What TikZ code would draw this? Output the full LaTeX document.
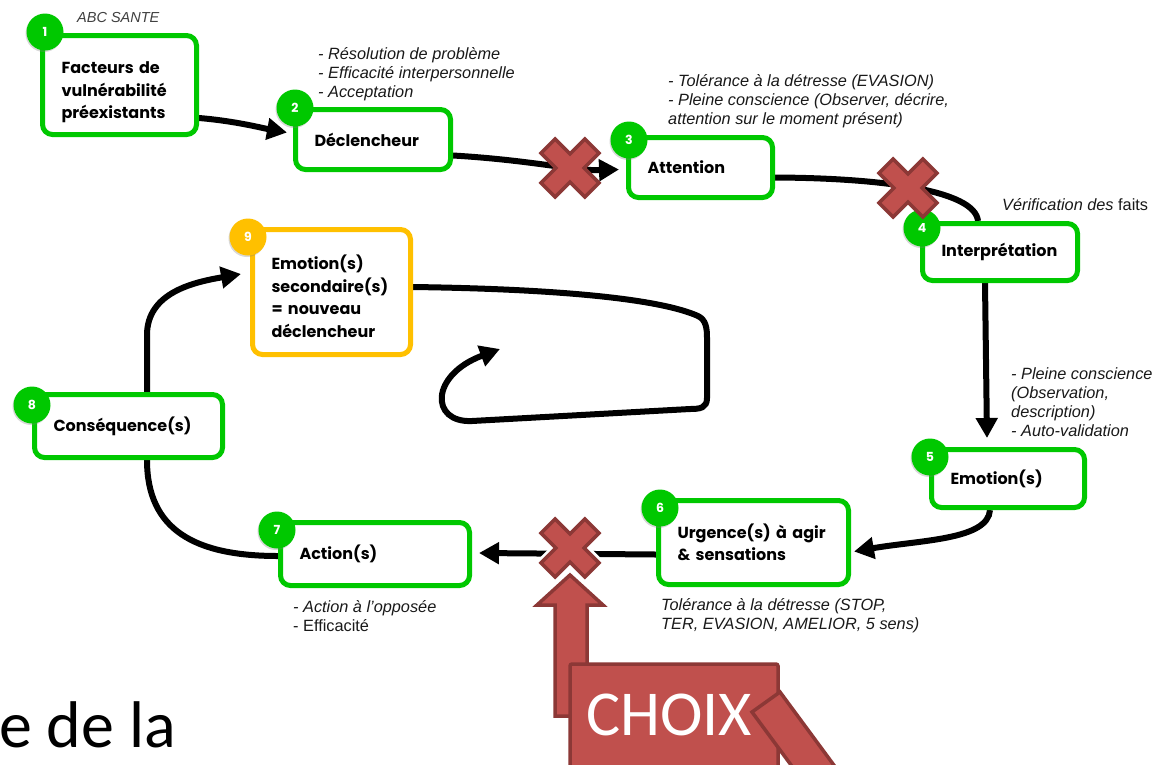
\documentclass[tikz,border=0pt]{standalone}
\usepackage{fontspec}
\setmainfont{Liberation Sans}
\newfontfamily\headfont{Poppins}
\newfontfamily\slidefont{Carlito}
\usetikzlibrary{arrows.meta,calc,backgrounds,shadows}

\definecolor{stagegreen}{RGB}{0,200,0}
\definecolor{stageorange}{RGB}{255,192,0}
\definecolor{crossfill}{RGB}{192,80,77}
\definecolor{crossline}{RGB}{140,56,54}
\definecolor{notegray}{RGB}{25,25,25}

\tikzset{
  stage/.style={draw=stagegreen, line width=5pt, fill=white, rounded corners=10pt,
    inner xsep=19pt, inner ysep=0pt, align=left,
    font=\headfont\bfseries\fontsize{16}{22.5}\selectfont},
  stagealt/.style={stage, draw=stageorange},
  badge/.style={circle, fill=stagegreen, minimum size=37pt, inner sep=0pt, text=white,
    font=\headfont\bfseries\fontsize{12.5}{12.5}\selectfont,
    drop shadow={shadow xshift=-1pt, shadow yshift=-1.5pt, opacity=0.3}},
  badgealt/.style={badge, fill=stageorange},
  note/.style={anchor=base west, align=left, inner sep=0pt, text=notegray,
    font=\fontsize{16.3}{19}\selectfont\itshape},
  conn/.style={line width=6pt, black},
  tip/.style={-{Triangle[length=20pt,width=21pt]}},
  redpart/.style={fill=crossfill, draw=crossline, line width=3.5pt, line join=miter},
  redcross/.pic={
    \draw[redpart, rotate=45] (10,10) -- (10,31) -- (-10,31) -- (-10,10) -- (-31,10)
      -- (-31,-10) -- (-10,-10) -- (-10,-31) -- (10,-31) -- (10,-10) -- (31,-10)
      -- (31,10) -- cycle;
  },
  haloredcross/.pic={
    \draw[white, line width=9pt, rotate=45] (10,10) -- (10,31) -- (-10,31) -- (-10,10)
      -- (-31,10) -- (-31,-10) -- (-10,-10) -- (-10,-31) -- (10,-31) -- (10,-10)
      -- (31,-10) -- (31,10) -- cycle;
    \draw[redpart, rotate=45] (10,10) -- (10,31) -- (-10,31) -- (-10,10) -- (-31,10)
      -- (-31,-10) -- (-10,-10) -- (-10,-31) -- (10,-31) -- (10,-10) -- (31,-10)
      -- (31,10) -- cycle;
  },
}

\begin{document}
\begin{tikzpicture}[x=1pt, y=-1pt]
\path[use as bounding box] (0,0) rectangle (1156,764);
\clip (0,0) rectangle (1156,764);

% the nine stages of the cycle
\node[stage, text width=116pt, minimum height=99pt] (n1) at (119.5,85)
  {\rule{0pt}{27pt}Facteurs de\\vulnérabilité\\préexistants};
\node[stage, text width=117pt, minimum height=60pt] (n2) at (373,139.5) {Déclencheur};
\node[stage, text width=106pt, minimum height=60pt] (n3) at (700.5,167.5) {Attention};
\node[stage, text width=117pt, minimum height=57pt] (n4) at (1000,252) {Interprétation};
\node[stage, text width=115pt, minimum height=58pt] (n5) at (1008,478.5) {Emotion(s)};
\node[stage, text width=152pt, minimum height=84pt] (n6) at (753.5,542.5)
  {Urgence(s) à agir\\\& sensations};
\node[stage, text width=151pt, minimum height=63pt] (n7) at (375,554) {Action(s)};
\node[stage, text width=150pt, minimum height=63pt] (n8) at (128.5,426) {Conséquence(s)};
\node[stagealt, text width=120pt, minimum height=125pt] (n9) at (331.5,292)
  {\rule{0pt}{23pt}Emotion(s)\\secondaire(s)\\= nouveau\\déclencheur};

% numbered badges
\node[badge] (b1) at (45,32) {1};
\node[badge] (b2) at (295,108) {2};
\node[badge] (b3) at (629,140) {3};
\node[badge] (b4) at (922,228) {4};
\node[badge] (b5) at (930,457) {5};
\node[badge] (b6) at (660,508) {6};
\node[badge] (b7) at (277,530) {7};
\node[badge] (b8) at (32,405) {8};
\node[badgealt] (b9) at (248,237) {9};

% page background and connectors, kept behind the boxes
\begin{scope}[on background layer]
\fill[white] (0,0) rectangle (1156,764);
\draw[conn, tip] ($(n1.east)+(0,33)$) .. controls (235,121) and (262,128) .. ($(n2.west)+(-6,-7)$);
\draw[conn, tip] ($(n2.east)+(0,16)$) .. controls (530,160) and (575,171) .. ($(n3.west)+(-7,2)$);
\draw[conn] ($(n3.east)+(0,10)$) .. controls (880,178) and (975,190) .. ($(n4.north)+(-22,0)$);
\draw[conn, tip] ($(n4.south)+(-15,0)$) -- ($(n5.north)+(-21,-9)$);
\draw[conn, tip] ($(n5.south)+(-18,0)$) .. controls (988,540) and (920,540) .. ($(n6.east)+(3,9)$);
\draw[conn, tip] ($(n6.west)+(0,12)$) -- ($(n7.east)+(7,-1)$);
\draw[conn] ($(n7.west)+(0,2)$) .. controls (195,556) and (147,530) .. ($(n8.south)+(18.5,0)$);
\draw[conn, tip] ($(n8.north)+(18.5,0)$) -- (147,335) .. controls (147,292) and (195,282) .. ($(n9.west)+(-9,-18)$);
\draw[conn, tip] ($(n9.east)+(0,-5)$) .. controls (560,289) and (660,299) .. (698,316)
  .. controls (706,320) and (707,328) .. (707,338) -- (707,398)
  .. controls (707,408) and (700,409) .. (690,409) -- (472,421)
  .. controls (430,423) and (430,375) .. (500,349);
\end{scope}

% notes beside the stages (placed by the baseline of their last line)
\node[note, text=black!75, font=\fontsize{14.5}{17}\selectfont\itshape] (abc) at (77,22) {ABC SANTE};
\node[note] (t2) at (318,97) {- Résolution de problème\\- Efficacité interpersonnelle\\- Acceptation};
\node[note] (t3) at (668,124) {- Tolérance à la détresse (EVASION)\\- Pleine conscience (Observer, décrire,\\attention sur le moment présent)};
\node[note, font=\fontsize{16.3}{19}\selectfont] (t4) at (1002,210) {\textit{Vérification des} faits};
\node[note] (t5) at (1011,436) {- Pleine conscience\\(Observation,\\description)\\- Auto-validation};
\node[note] (t6) at (661,629) {Tolérance à la détresse (STOP,\\TER, EVASION, AMELIOR, 5 sens)};
\node[note, font=\fontsize{16.3}{19}\selectfont] (t7) at (293,631) {\textit{- Action à l’opposée}\\- Efficacité};

% blocked transitions
\pic at (570,168) {redcross};
\pic at (908,188) {redcross};

% choice arrow and label
\draw[redpart] (555,716) -- (555,605) -- (537,605) -- (570,575) -- (603,605)
  -- (587,605) -- (587,716) -- cycle;
\pic at (570,548) {haloredcross};
\draw[redpart, rounded corners=2pt] (570,664) rectangle (778,800);
\node[text=white, inner sep=0pt, anchor=base,
  font=\slidefont\fontsize{64}{64}\selectfont] (choix) at (669,735) {CHOIX};
\draw[redpart] (752,712) -- (780,692) -- (850,787) -- (822,807) -- cycle;

% slide title fragment
\node[anchor=base west, inner sep=0pt, font=\slidefont\fontsize{66}{66}\selectfont]
  (title) at (-1,747) {e de la};
\end{tikzpicture}
\end{document}
